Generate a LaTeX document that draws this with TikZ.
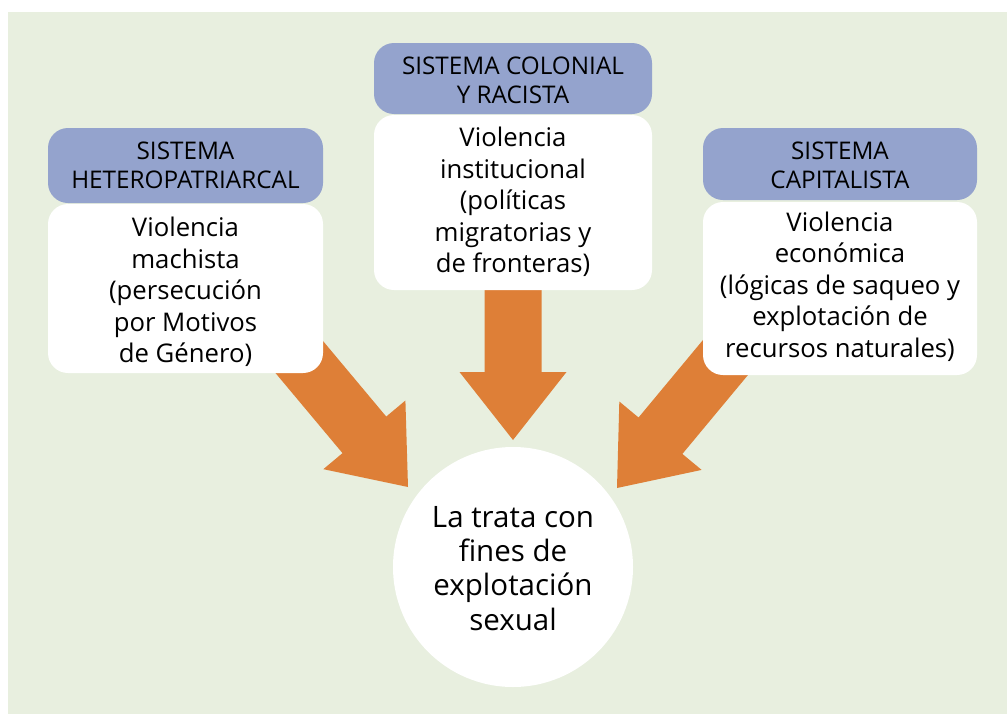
\documentclass[tikz,border=0pt]{standalone}
\usepackage{fontspec}
\setmainfont{Open Sans}
\usetikzlibrary{calc}
\definecolor{bggreen}{RGB}{232,239,223}
\definecolor{hdrblue}{RGB}{148,163,205}
\definecolor{arrorange}{RGB}{222,127,55}
\pgfdeclarelayer{back}
\pgfdeclarelayer{arrowlayer}
\pgfsetlayers{back,arrowlayer,main}
\newcommand\blockarrow[2]{%
  \path coordinate (hb) at ($(#2)!68pt!(#1)$);
  \fill[arrorange]
    ($(#1)!28.5pt!90:(#2)$) -- ($(hb)!28.5pt!90:(#2)$) -- ($(hb)!53.5pt!90:(#2)$)
    -- (#2)
    -- ($(hb)!53.5pt!-90:(#2)$) -- ($(hb)!28.5pt!-90:(#2)$) -- ($(#1)!28.5pt!-90:(#2)$) -- cycle;
}
\tikzset{
  hdr/.style={rounded corners=20pt, fill=hdrblue, inner sep=0pt, align=center,
    font=\fontsize{24.3}{29}\selectfont},
  bodybox/.style={rounded corners=20pt, fill=white, inner sep=0pt, align=center,
    font=\fontsize{25.7}{31.5}\selectfont},
  goalnode/.style={circle, fill=white, inner sep=0pt, align=center,
    font=\fontsize{29.5}{34.3}\selectfont},
}
\begin{document}
\begin{tikzpicture}[x=1pt,y=-1pt]
\useasboundingbox (0,0) rectangle (1007,715);
\begin{pgfonlayer}{back}
  \fill[bggreen] (8,12) rectangle (1007,714);
\end{pgfonlayer}

% headers
\node[hdr, minimum width=275pt, minimum height=75pt, text height=60pt, text depth=15pt] (lh) at (185.5,165.5) {SISTEMA\\HETEROPATRIARCAL};
\node[hdr, minimum width=278pt, minimum height=71pt, text height=60pt, text depth=11pt] (ch) at (513,78.5) {SISTEMA COLONIAL\\Y RACISTA};
\node[hdr, minimum width=274pt, minimum height=72pt, text height=60pt, text depth=12pt] (rh) at (840,164) {SISTEMA\\CAPITALISTA};

% bodies
\node[bodybox, minimum width=275pt, minimum height=169pt, text height=158.5pt, text depth=10.5pt] (lb) at (185.5,288.5) {Violencia\\machista\\(persecución\\por Motivos\\de Género)};
\node[bodybox, minimum width=278pt, minimum height=175pt, text height=157.5pt, text depth=17.5pt] (cb) at (513,202.5) {Violencia\\institucional\\(políticas\\migratorias y\\de fronteras)};
\node[bodybox, minimum width=274pt, minimum height=173pt, text height=155pt, text depth=18pt] (rb) at (840,288.5) {Violencia\\económica\\(lógicas de saqueo y\\explotación de\\recursos naturales)};

% goal
\node[goalnode, minimum size=240pt, text height=126pt, text depth=0pt] (goal) at (513,567) {La trata con\\fines de\\explotación\\sexual};

% arrow ends
\coordinate (lstart) at (280,334);
\coordinate (ltip) at (408,487);
\coordinate (cstart) at (513,200);
\coordinate (ctip) at (513,440);
\coordinate (rstart) at (745,334);
\coordinate (rtip) at (617,488);

\begin{pgfonlayer}{arrowlayer}
  \blockarrow{lstart}{ltip}
  \blockarrow{cstart}{ctip}
  \blockarrow{rstart}{rtip}
\end{pgfonlayer}
\end{tikzpicture}
\end{document}
